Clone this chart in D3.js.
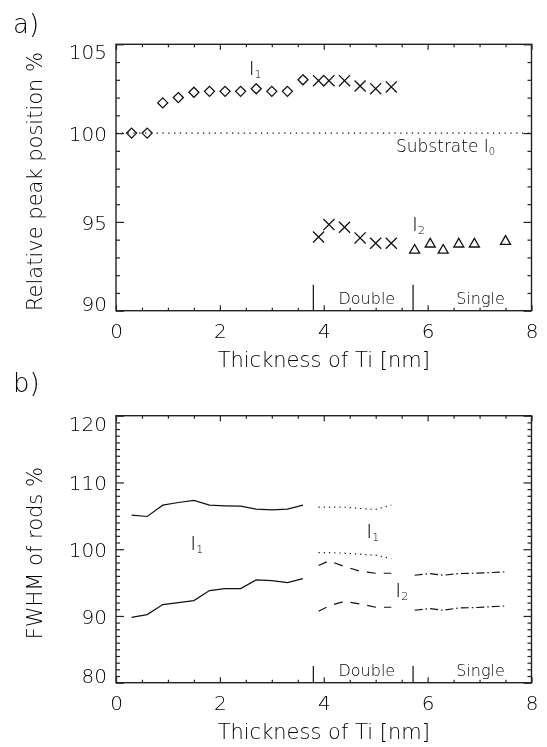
<!DOCTYPE html>
<html>
<head>
<meta charset="utf-8">
<script src="https://cdn.jsdelivr.net/npm/d3@7"></script>
<style>
  body { margin: 0; background: #fff; }
  svg { will-change: transform; }
  svg text { font-family: "DejaVu Sans", sans-serif; font-weight: 200; fill: #000; }
</style>
</head>
<body>
<div id="chart"></div>
<script>
// ---- data ----
const xThin = [0.3, 0.6, 0.9, 1.2, 1.5, 1.8, 2.1, 2.4, 2.7, 3.0, 3.3, 3.6];
const xDouble = [3.9, 4.1, 4.4, 4.7, 5.0, 5.3];
const xSingle = [5.75, 6.05, 6.3, 6.6, 6.9, 7.5];

// a) relative peak position %
const posI1Thin = [100, 100, 101.7, 102.0, 102.3, 102.35, 102.35, 102.35, 102.5, 102.35, 102.35, 103.0];
const posI1Double = [102.95, 102.95, 102.95, 102.65, 102.5, 102.6];
const posI2Double = [94.15, 94.85, 94.7, 94.1, 93.8, 93.8];
const posI2Single = [93.4, 93.75, 93.4, 93.75, 93.75, 93.9];
const substrateLevel = 100;

// b) FWHM of rods %
const fwhmUpperThin = [105.1, 104.9, 106.6, 107.0, 107.3, 106.6, 106.5, 106.45, 106.0, 105.9, 106.0, 106.6];
const fwhmLowerThin = [89.8, 90.2, 91.7, 92.0, 92.3, 93.8, 94.1, 94.1, 95.4, 95.3, 95.0, 95.6];
const fwhmUpperI1Double = [106.3, 106.3, 106.3, 106.1, 105.95, 106.6];
const fwhmLowerI1Double = [99.5, 99.5, 99.4, 99.25, 99.1, 98.6];
const fwhmUpperI2Double = [97.55, 98.25, 97.4, 96.7, 96.4, 96.4];
const fwhmLowerI2Double = [90.7, 91.5, 92.2, 91.8, 91.3, 91.3];
const fwhmUpperSingle = [96.1, 96.35, 96.1, 96.35, 96.4, 96.6];
const fwhmLowerSingle = [90.85, 91.1, 90.85, 91.2, 91.25, 91.5];

// regime borders
const regimeBorders = [3.8, 5.72];
const regimeNames = ["Double", "Single"];
const regimeLabelX = [4.83, 7.02];

const xTicks = [0, 2, 4, 6, 8];
const yTicksA = [90, 95, 100, 105];
const yTicksB = [80, 90, 100, 110, 120];

const width = 547;
const height = 747;

const svg = d3.select("#chart").append("svg")
    .attr("width", width)
    .attr("height", height);

const left = 116, right = 531.5;

function makePanel(top, bottom, ydom, yMajor, yMinorStep, title, letter, letterY) {
    const x = d3.scaleLinear().domain([0, 8]).range([left, right]);
    const y = d3.scaleLinear().domain(ydom).range([bottom, top]);
    const g = svg.append("g");

    // frame
    g.append("rect")
        .attr("x", left).attr("y", top)
        .attr("width", right - left).attr("height", bottom - top)
        .attr("fill", "none").attr("stroke", "#222").attr("stroke-width", 1.4);

    const xMinor = d3.range(0, 8.001, 0.5).filter(v => v % 2 !== 0);
    const yMinor = d3.range(ydom[0], ydom[1] + 0.001, yMinorStep).filter(v => !yMajor.includes(v));

    const tickStyle = sel => {
        sel.select(".domain").remove();
        sel.selectAll("line").attr("stroke", "#222").attr("stroke-width", 1.2);
    };

    // bottom with labels
    g.append("g").attr("transform", `translate(0,${bottom})`)
        .call(d3.axisBottom(x).tickValues(xTicks).tickSize(-5.5).tickPadding(12).tickFormat(d3.format("d")))
        .call(tickStyle)
        .selectAll("text").attr("font-size", 20).attr("fill", "#000")
        .attr("font-family", "DejaVu Sans").attr("dy", "0.75em");
    g.append("g").attr("transform", `translate(0,${bottom})`)
        .call(d3.axisBottom(x).tickValues(xMinor).tickSize(-3).tickFormat(""))
        .call(tickStyle);
    // top mirror
    g.append("g").attr("transform", `translate(0,${top})`)
        .call(d3.axisTop(x).tickValues(xTicks).tickSize(-5.5).tickFormat(""))
        .call(tickStyle);
    g.append("g").attr("transform", `translate(0,${top})`)
        .call(d3.axisTop(x).tickValues(xMinor).tickSize(-3).tickFormat(""))
        .call(tickStyle);

    // left with labels
    const yl = g.append("g").attr("transform", `translate(${left},0)`)
        .call(d3.axisLeft(y).tickValues(yMajor).tickSize(-8).tickPadding(9).tickFormat(d3.format("d")))
        .call(tickStyle);
    yl.selectAll("text").attr("font-size", 20).attr("fill", "#000")
        .attr("font-family", "DejaVu Sans")
        .attr("dy", d => d === ydom[1] ? "0.73em" : (d === ydom[0] ? "0em" : "0.36em"));
    g.append("g").attr("transform", `translate(${left},0)`)
        .call(d3.axisLeft(y).tickValues(yMinor).tickSize(-4).tickFormat(""))
        .call(tickStyle);
    // right mirror
    g.append("g").attr("transform", `translate(${right},0)`)
        .call(d3.axisRight(y).tickValues(yMajor).tickSize(-8).tickFormat(""))
        .call(tickStyle);
    g.append("g").attr("transform", `translate(${right},0)`)
        .call(d3.axisRight(y).tickValues(yMinor).tickSize(-4).tickFormat(""))
        .call(tickStyle);

    // axis titles
    g.append("text")
        .attr("x", (left + right) / 2).attr("y", bottom + 56)
        .attr("text-anchor", "middle").attr("font-size", 21)
        .text("Thickness of Ti [nm]");
    g.append("text")
        .attr("transform", `translate(42,${(top + bottom) / 2 + 4}) rotate(-90)`)
        .attr("text-anchor", "middle").attr("font-size", 21)
        .text(title);
    svg.append("text")
        .attr("x", 13).attr("y", letterY)
        .attr("font-size", 26)
        .text(letter);

    // regime borders and names
    g.selectAll(".border").data(regimeBorders).enter().append("line")
        .attr("x1", d => x(d)).attr("x2", d => x(d))
        .attr("y1", bottom).attr("y2", bottom - 26 * (ydom[1] - ydom[0] === 15 ? 1 : 0.64))
        .attr("stroke", "#222").attr("stroke-width", 1.3);
    g.selectAll(".regime").data(regimeNames).enter().append("text")
        .attr("x", (d, i) => x(regimeLabelX[i])).attr("y", bottom - 6.5)
        .attr("text-anchor", "middle").attr("font-size", 16)
        .text(d => d);

    return { g, x, y };
}

function label(g, px, py, main, sub, size, subSize) {
    const t = g.append("text").attr("x", px).attr("y", py).attr("font-size", size).text(main);
    t.append("tspan").attr("font-size", subSize).attr("dy", 3).text(sub);
}

// ---- panel a ----
const a = makePanel(44.3, 310.7, [90, 105], yTicksA, 1, "Relative peak position %", "a)", 33);

a.g.append("line")
    .attr("x1", a.x(0)).attr("x2", a.x(8))
    .attr("y1", a.y(substrateLevel)).attr("y2", a.y(substrateLevel))
    .attr("stroke", "#111").attr("stroke-width", 1.2).attr("stroke-dasharray", "1.3,4.5");

const diamond = d3.symbol().type(d3.symbolDiamond2).size(64);
const cross = d3.symbol().type(d3.symbolTimes).size(82);
const triangle = d3.symbol().type(d3.symbolTriangle2).size(72);

function markers(p, xs, ys, sym) {
    p.g.selectAll(null).data(xs.map((v, i) => ({ x: v, y: ys[i] }))).enter().append("path")
        .attr("d", sym)
        .attr("transform", d => `translate(${p.x(d.x)},${p.y(d.y)})`)
        .attr("fill", "none").attr("stroke", "#111").attr("stroke-width", 1.3);
}
markers(a, xThin, posI1Thin, diamond);
markers(a, xDouble, posI1Double, cross);
markers(a, xDouble, posI2Double, cross);
markers(a, xSingle, posI2Single, triangle);

label(a.g, 248.7, 75, "I", "1", 20, 11);
label(a.g, 412, 231, "I", "2", 20, 11);
label(a.g, 396, 152, "Substrate I", "0", 17, 10);

// ---- panel b ----
const b = makePanel(415.7, 682.7, [80, 120], yTicksB, 1, "FWHM of rods %", "b)", 392);

function curve(p, xs, ys, dash) {
    p.g.append("path")
        .datum(xs.map((v, i) => [v, ys[i]]))
        .attr("d", d3.line().x(d => p.x(d[0])).y(d => p.y(d[1])))
        .attr("fill", "none").attr("stroke", "#111").attr("stroke-width", 1.2)
        .attr("stroke-dasharray", dash);
}
curve(b, xThin, fwhmUpperThin, null);
curve(b, xThin, fwhmLowerThin, null);
curve(b, xDouble, fwhmUpperI1Double, "1.2,4");
curve(b, xDouble, fwhmLowerI1Double, "1.2,4");
curve(b, xDouble, fwhmUpperI2Double, "9,8");
curve(b, xDouble, fwhmLowerI2Double, "9,8");
curve(b, xSingle, fwhmUpperSingle, "8,3,1.5,3");
curve(b, xSingle, fwhmLowerSingle, "8,3,1.5,3");

label(b.g, 190.3, 550, "I", "1", 20, 11);
label(b.g, 366.3, 538, "I", "1", 20, 11);
label(b.g, 395.3, 597, "I", "2", 20, 11);
</script>
</body>
</html>
